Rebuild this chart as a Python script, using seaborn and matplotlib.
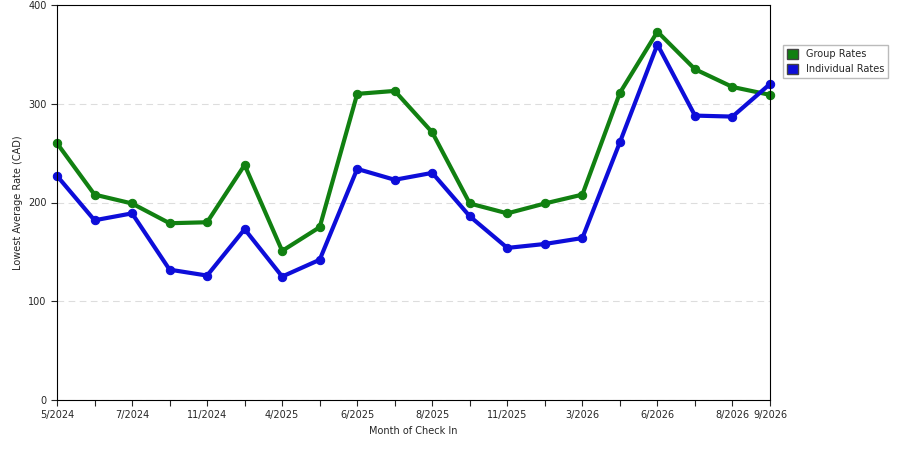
import matplotlib
matplotlib.use("Agg")
import matplotlib.pyplot as plt
import seaborn as sns
import pandas as pd
from matplotlib.patches import Patch

tick_labels = ["5/2024", "", "7/2024", "", "11/2024", "", "4/2025", "", "6/2025", "",
               "8/2025", "", "11/2025", "", "3/2026", "", "6/2026", "", "8/2026", "9/2026"]
group_rates = [260, 208, 199, 179, 180, 238, 151, 175, 310, 313,
               271, 199, 189, 199, 208, 311, 373, 335, 317, 309]
individual_rates = [227, 182, 189, 132, 126, 173, 125, 142, 234, 223,
                    230, 186, 154, 158, 164, 261, 360, 288, 287, 320]

sns.set_style("white")
plt.rcParams['font.family'] = ['DejaVu Sans']

df = pd.DataFrame({"idx": range(len(group_rates)),
                   "Group Rates": group_rates,
                   "Individual Rates": individual_rates})

fig = plt.figure(figsize=(9, 4.5), dpi=100)
ax = fig.add_axes([57/900, 50/450, 713/900, 395/450])

colors = {"Group Rates": "#118011", "Individual Rates": "#0d0dd9"}
for name in ["Group Rates", "Individual Rates"]:
    sns.lineplot(data=df, x="idx", y=name, ax=ax, color=colors[name], lw=3,
                 marker="o", markersize=6, markeredgecolor=colors[name], clip_on=False)

ax.set_xlim(0, len(group_rates) - 1)
ax.set_ylim(0, 400)
ax.set_yticks([0, 100, 200, 300, 400])
ax.set_xticks(range(len(tick_labels)))
ax.set_xticklabels(tick_labels, fontsize=7)
ax.tick_params(axis="y", labelsize=7, length=4, left=True)
ax.tick_params(axis="x", length=4, bottom=True)
ax.yaxis.grid(True, ls=(0, (6, 4)), color="#dddddd", lw=0.8)
ax.set_axisbelow(True)
for s in ax.spines.values():
    s.set_color("black")
    s.set_linewidth(0.8)
ax.set_xlabel("Month of Check In", fontsize=7)
ax.set_ylabel("Lowest Average Rate (CAD)", fontsize=7)

handles = [Patch(facecolor=colors[n], edgecolor="#444444", label=n) for n in colors]
fig.legend(handles=handles, loc="upper left", bbox_to_anchor=(778/900, 1 - 40/450),
           fontsize=7, frameon=True, fancybox=False, edgecolor="#aaaaaa",
           handlelength=1.2, handleheight=1.2)

fig.savefig("out.png", dpi=100)
